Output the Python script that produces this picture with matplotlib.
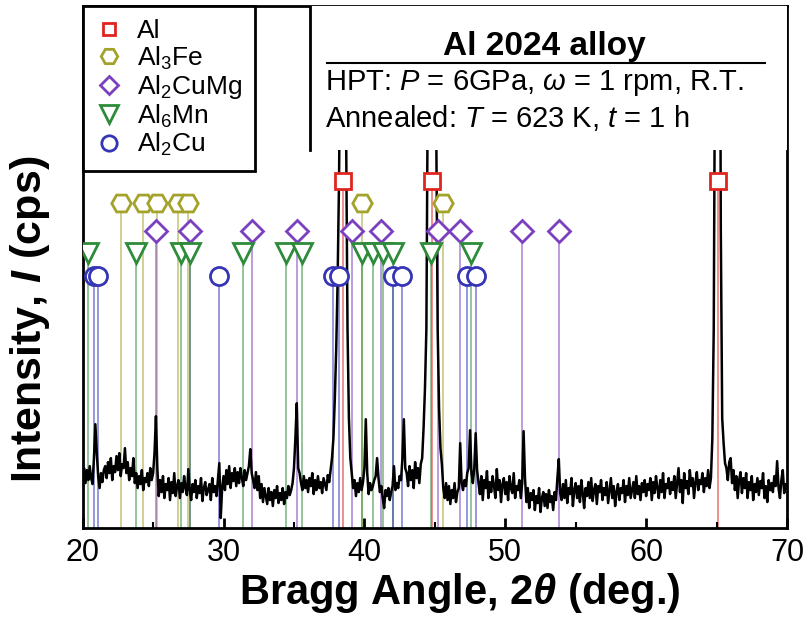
import numpy as np
import matplotlib
matplotlib.use('Agg')
import matplotlib.pyplot as plt
from matplotlib.lines import Line2D
from matplotlib.patches import Rectangle

plt.rcParams['font.family'] = ['Liberation Sans', 'DejaVu Sans']
plt.rcParams['mathtext.fontset'] = 'custom'
plt.rcParams['mathtext.rm'] = 'Liberation Sans'
plt.rcParams['mathtext.it'] = 'Liberation Sans:italic'
plt.rcParams['mathtext.bf'] = 'Liberation Sans:bold'
plt.rcParams['mathtext.bfit'] = 'Liberation Sans:bold:italic'

# XRD trace, 2theta from 20.0 to 70.0 deg in 0.1 deg steps (one row per degree)
angle_start = 20.0
angle_step = 0.1
trace_rows = [
    [52, 60, 45, 58, 48, 62, 50, 44, 70, 104],       # 20
    [75, 52, 40, 55, 46, 58, 62, 50, 66, 55],        # 21
    [70, 48, 62, 56, 72, 58, 75, 52, 64, 60],        # 22
    [80, 55, 66, 48, 60, 52, 70, 45, 55, 40],        # 23
    [52, 44, 58, 38, 50, 46, 55, 42, 60, 48],        # 24
    [55, 75, 112, 60, 32, 48, 36, 52, 30, 44],       # 25
    [38, 50, 28, 46, 35, 55, 32, 42, 48, 30],        # 26
    [45, 36, 52, 40, 33, 59, 38, 28, 44, 36],        # 27
    [48, 30, 42, 35, 50, 27, 40, 46, 33, 38],        # 28
    [44, 28, 50, 36, 42, 32, 48, 65, 10, 40],        # 29
    [52, 38, 58, 44, 62, 40, 55, 47, 60, 42],        # 30
    [56, 45, 60, 50, 42, 58, 48, 55, 62, 79],        # 31
    [55, 48, 40, 56, 38, 52, 30, 44, 26, 40],        # 32
    [32, 24, 40, 28, 36, 22, 38, 30, 42, 25],        # 33
    [35, 28, 40, 24, 36, 30, 42, 33, 38, 45],        # 34
    [60, 90, 125, 60, 55, 45, 38, 52, 40, 48],       # 35
    [36, 50, 42, 55, 34, 48, 38, 52, 40, 46],        # 36
    [35, 50, 44, 38, 53, 46, 58, 70, 90, 130],       # 37
    [180, 250, 350, 520, 1200, 3000, 1500, 400, 200, 110],  # 38
    [70, 55, 40, 48, 32, 45, 36, 50, 38, 46],        # 39
    [60, 109, 55, 34, 45, 38, 42, 48, 52, 70],       # 40
    [50, 36, 42, 30, 20, 38, 32, 40, 28, 36],        # 41
    [42, 62, 38, 45, 40, 52, 48, 70, 109, 60],       # 42
    [55, 42, 62, 48, 58, 40, 66, 50, 60, 45],        # 43
    [64, 70, 100, 140, 200, 450, 900, 2500, 3000, 2000],  # 44
    [800, 400, 200, 120, 80, 64, 40, 30, 45, 28],    # 45
    [42, 24, 38, 30, 45, 26, 36, 40, 85, 45],        # 46
    [38, 48, 42, 55, 60, 98, 55, 45, 60, 95],        # 47
    [58, 45, 34, 52, 28, 48, 40, 57, 30, 46],        # 48
    [36, 52, 42, 30, 59, 38, 48, 26, 44, 50],        # 49
    [34, 46, 28, 52, 40, 35, 55, 30, 42, 38],        # 50
    [48, 30, 45, 97, 50, 26, 40, 20, 35, 28],        # 51
    [38, 18, 32, 25, 40, 16, 30, 36, 22, 34],        # 52
    [20, 38, 26, 32, 18, 36, 28, 50, 69, 35],        # 53
    [28, 44, 30, 48, 25, 40, 34, 50, 22, 38],        # 54
    [45, 30, 42, 26, 48, 35, 20, 40, 32, 46],        # 55
    [30, 50, 27, 38, 44, 24, 42, 36, 48, 28],        # 56
    [40, 33, 46, 25, 38, 50, 30, 42, 22, 36],        # 57
    [44, 28, 40, 35, 48, 26, 42, 33, 50, 30],        # 58
    [38, 46, 30, 52, 34, 42, 28, 45, 36, 48],        # 59
    [32, 44, 38, 50, 28, 46, 35, 52, 40, 30],        # 60
    [48, 36, 55, 30, 44, 40, 50, 34, 46, 38],        # 61
    [52, 30, 45, 60, 36, 48, 25, 55, 40, 47],        # 62
    [34, 58, 42, 50, 30, 46, 56, 38, 48, 44],        # 63
    [55, 36, 50, 42, 58, 40, 50, 90, 200, 500],      # 64
    [1500, 2000, 800, 300, 110, 85, 65, 60, 48, 66], # 65
    [70, 45, 58, 38, 52, 30, 48, 56, 35, 50],        # 66
    [40, 55, 30, 46, 38, 52, 28, 44, 36, 50],        # 67
    [33, 47, 40, 55, 30, 42, 26, 48, 38, 45],        # 68
    [36, 52, 42, 67, 40, 30, 48, 58, 35, 44],        # 69
    [40],                                            # 70
]

# reference peak positions (2theta, deg) for each phase
al_peaks = [38.5, 44.8, 65.1]
al3fe_peaks = [22.7, 24.3, 25.3, 26.8, 27.5, 39.8, 45.6]
al2cumg_peaks = [25.2, 27.6, 32.0, 35.2, 39.1, 41.2, 45.2, 46.8, 51.2, 53.8]
al6mn_peaks = [20.4, 23.8, 27.0, 27.6, 31.4, 34.4, 35.6, 39.8, 40.6, 41.3, 42.0, 44.7, 47.6]
al2cu_peaks = [20.8, 21.1, 29.7, 37.8, 38.2, 42.0, 42.7, 47.3, 47.9]

phase_names = ['Al', r'Al$_3$Fe', r'Al$_2$CuMg', r'Al$_6$Mn', r'Al$_2$Cu']

intensity = np.array([v for row in trace_rows for v in row], dtype=float)
two_theta = angle_start + angle_step * np.arange(len(intensity))

fig = plt.figure(figsize=(8.09, 6.39), dpi=100)
ax = fig.add_axes([0.1022, 0.1737, 0.8706, 0.8169])

# phase: peaks, marker, colour, marker size, marker row height
phases = [
    (al_peaks, 's', '#e0251f', 11, 348),
    (al3fe_peaks, 'H', '#a3a22a', 14, 326),
    (al2cumg_peaks, 'D', '#7b3fbf', 11, 298),
    (al6mn_peaks, 'v', '#2e8b3a', 15, 276),
    (al2cu_peaks, 'o', '#3535b5', 13, 252),
]

for peaks, mk, col, ms, level in phases:
    ax.vlines(peaks, 0, level, colors=col, lw=1.3, alpha=0.55, zorder=1)

ax.plot(two_theta, intensity, color='black', lw=1.8, zorder=2)

handles = []
for (peaks, mk, col, ms, level), name in zip(phases, phase_names):
    ax.plot(peaks, [level] * len(peaks), ls='none', marker=mk, ms=ms,
            mfc='white', mec=col, mew=2, zorder=3)
    handles.append(Line2D([], [], ls='none', marker=mk, ms=ms * 0.85,
                          mfc='white', mec=col, mew=2, label=name))

ax.set_xlim(20, 70)
ax.set_ylim(0, 523)
ax.set_xticks([20, 30, 40, 50, 60, 70])
ax.set_xticks([25, 35, 45, 55, 65], minor=True)
ax.set_yticks([])
ax.tick_params(axis='x', direction='in', length=7, width=2, labelsize=22, pad=7)
ax.tick_params(axis='x', which='minor', direction='in', length=4, width=1.5)
for s in ax.spines.values():
    s.set_linewidth(2)

ax.set_xlabel(r'Bragg Angle, 2$\mathbfit{\theta}$ (deg.)', fontsize=30, fontweight='bold')
ax.xaxis.set_label_coords(0.536, -0.082)
ax.set_ylabel(r'Intensity, $\mathbfit{I}$ (cps)', fontsize=31, fontweight='bold')
ax.yaxis.set_label_coords(-0.044, 0.40)

leg = ax.legend(handles=handles, loc='upper left', bbox_to_anchor=(0, 1),
                borderaxespad=0, fontsize=19, handlelength=1.0, handletextpad=0.55,
                labelspacing=0.05, borderpad=0.5, fancybox=False, framealpha=1,
                edgecolor='black')
leg.get_frame().set_linewidth(2)
leg.set_zorder(6)

# condition box (white, hides the clipped Al peaks)
ax.add_patch(Rectangle((0.323, 0.724), 0.677, 0.276, transform=ax.transAxes,
                       facecolor='white', edgecolor='none', zorder=4))
ax.plot([0.323, 0.323], [0.724, 1.0], color='black', lw=2, transform=ax.transAxes, zorder=5)
ax.text(0.656, 0.922, 'Al 2024 alloy', transform=ax.transAxes, fontsize=24,
        fontweight='bold', ha='center', va='center', zorder=5)
ax.plot([0.347, 0.969], [0.891, 0.891], color='black', lw=1.5, transform=ax.transAxes, zorder=5)
ax.text(0.344, 0.852, r'HPT: $P$ = 6GPa, $\omega$ = 1 rpm, R.T.', transform=ax.transAxes,
        fontsize=21, ha='left', va='center', zorder=5)
ax.text(0.344, 0.785, r'Annealed: $T$ = 623 K, $t$ = 1 h', transform=ax.transAxes,
        fontsize=21, ha='left', va='center', zorder=5)

fig.savefig('out.png', dpi=100)
